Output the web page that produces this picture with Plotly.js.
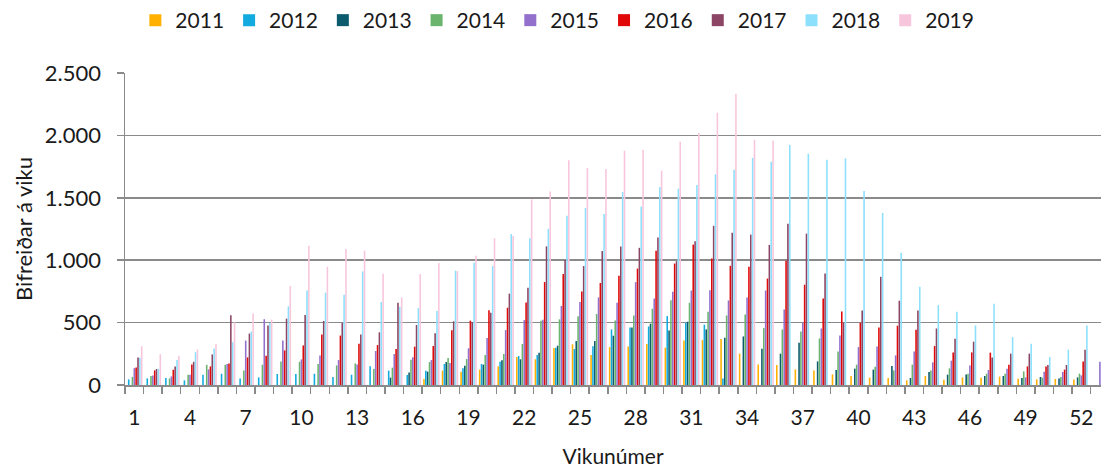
<!DOCTYPE html>
<html>
<head>
<meta charset="utf-8">
<script src="https://cdn.plot.ly/plotly-3.0.1.min.js"></script>
<style>html,body{margin:0;padding:0;overflow:hidden;background:#fff}</style>
</head>
<body>
<div id="chart" style="width:1101px;height:468px"></div>
<script>
const weeks = [1,2,3,4,5,6,7,8,9,10,11,12,13,14,15,16,17,18,19,20,21,22,23,24,25,26,27,28,29,30,31,32,33,34,35,36,37,38,39,40,41,42,43,44,45,46,47,48,49,50,51,52,53];
const tickWeeks = [1,4,7,10,13,16,19,22,25,28,31,34,37,40,43,46,49,52];
const seriesNames = ["2011","2012","2013","2014","2015","2016","2017","2018","2019"];
const N = null;

const y2011 = [N,N,N,N,N,N,N,N,N,N,N,N,N,N,N,N,48,115,107,123,150,224,206,296,326,240,304,309,328,299,357,360,368,251,165,160,125,117,85,72,59,56,37,72,43,61,59,67,51,45,48,45,N];
const y2012 = [45,53,56,37,82,90,53,61,88,88,90,64,82,150,115,80,115,168,134,168,187,232,240,299,288,310,445,461,469,552,499,483,53,N,N,N,N,N,N,N,N,N,N,N,N,N,N,N,N,N,N,N,N];
const y2013 = [N,N,N,N,N,N,N,N,N,N,N,N,N,N,59,101,107,184,155,163,198,206,259,315,352,352,395,461,491,437,507,445,379,389,291,251,339,189,120,131,123,152,56,104,83,85,72,72,56,64,53,61,N];
const y2014 = [65,72,53,82,162,162,117,162,189,186,168,157,173,128,139,203,184,216,208,240,248,328,515,526,550,569,517,557,611,680,659,587,557,565,456,445,429,373,269,163,147,117,163,117,133,91,91,91,109,59,64,91,N];
const y2015 = [135,77,69,82,125,168,356,527,356,205,237,200,165,272,248,222,200,176,294,376,440,520,523,633,665,702,659,824,693,747,757,760,677,701,757,605,499,453,397,304,309,237,269,181,195,157,120,131,61,107,104,77,187];
const y2016 = [140,117,122,165,149,173,221,234,277,317,404,396,330,320,288,307,312,438,515,598,619,662,825,889,750,817,875,933,1075,973,1125,1013,955,947,853,995,803,693,589,499,461,475,443,312,261,261,259,163,149,149,123,189,N];
const y2017 = [220,128,149,186,245,559,412,476,532,561,513,497,404,422,660,481,414,510,505,579,732,780,1111,1001,953,1073,1109,1099,1181,992,1152,1275,1219,1205,1123,1293,1213,893,499,597,867,675,597,453,371,347,221,251,251,160,160,283,N];
const y2018 = [218,130,200,263,293,343,428,497,630,758,740,724,910,665,627,617,593,916,980,953,1210,1175,1252,1356,1418,1370,1547,1429,1587,1573,1603,1688,1725,1819,1789,1923,1853,1805,1816,1555,1379,1059,787,640,587,477,651,384,331,224,283,477,N];
const y2019 = [310,247,234,285,330,503,572,524,793,1115,947,1090,1077,892,702,889,977,913,1036,1175,1193,1487,1551,1800,1738,1730,1877,1885,1717,1949,2019,2181,2333,1965,1957,N,N,N,N,N,N,N,N,N,N,N,N,N,N,N,N,N,N];

const seriesValues = [y2011,y2012,y2013,y2014,y2015,y2016,y2017,y2018,y2019];
const colors = ["#FFB000","#12AADF","#0B5A6E","#6AB46E","#9370CC","#E00808","#8C4564","#8CE0FC","#F8C6DC"];

const traces = seriesNames.map((name, i) => ({
  type: "bar",
  name: name,
  x: weeks,
  y: seriesValues[i],
  marker: {color: colors[i], line: {width: 0}},
  hoverinfo: "x+y+name"
}));

const FONT = "Lato, Carlito, Calibri, 'Open Sans', sans-serif";
const gridCol = "#8a8a8a";

const layout = {
  width: 1101,
  height: 468,
  margin: {l: 125, r: 0, t: 73, b: 83, pad: 0},
  paper_bgcolor: "#ffffff",
  plot_bgcolor: "#ffffff",
  font: {family: FONT, size: 21, color: "#1a1a1a"},
  separators: ",.",
  barmode: "group",
  bargap: 0.1,
  bargroupgap: 0.15,
  showlegend: true,
  legend: {
    orientation: "h",
    x: 0.443, xanchor: "center",
    y: 1.234, yanchor: "top",
    font: {family: FONT, size: 21, color: "#1a1a1a"},
    itemwidth: 30,
    traceorder: "normal",
    bgcolor: "rgba(0,0,0,0)"
  },
  xaxis: {
    type: "linear",
    range: [0.5, 53.06],
    tickvals: tickWeeks,
    ticktext: tickWeeks.map(String),
    ticks: "outside",
    ticklen: 7,
    tickcolor: "rgba(0,0,0,0)",
    ticklabelstandoff: 6,
    minor: {ticks: "outside", tick0: 0.5, dtick: 1, ticklen: 7, tickcolor: gridCol, tickwidth: 1.5, showgrid: false},
    showline: true,
    linecolor: gridCol,
    linewidth: 1.5,
    showgrid: false,
    zeroline: false,
    tickfont: {family: FONT, size: 21, color: "#1a1a1a"},
    title: {text: "Vikunúmer", standoff: 24, font: {family: FONT, size: 21, color: "#1a1a1a"}}
  },
  yaxis: {
    range: [0, 2500],
    dtick: 500,
    tickformat: ",d",
    ticks: "outside",
    ticklen: 7,
    tickcolor: gridCol,
    tickwidth: 1.5,
    ticklabelstandoff: 11,
    showline: true,
    linecolor: gridCol,
    linewidth: 1.5,
    showgrid: true,
    gridcolor: gridCol,
    gridwidth: 1.6,
    zeroline: false,
    tickfont: {family: FONT, size: 22, color: "#1a1a1a"},
    title: {text: "Bifreiðar á viku", standoff: 6, font: {family: FONT, size: 22, color: "#1a1a1a"}}
  }
};

Plotly.newPlot("chart", traces, layout, {displayModeBar: false, staticPlot: true});
</script>
</body>
</html>
